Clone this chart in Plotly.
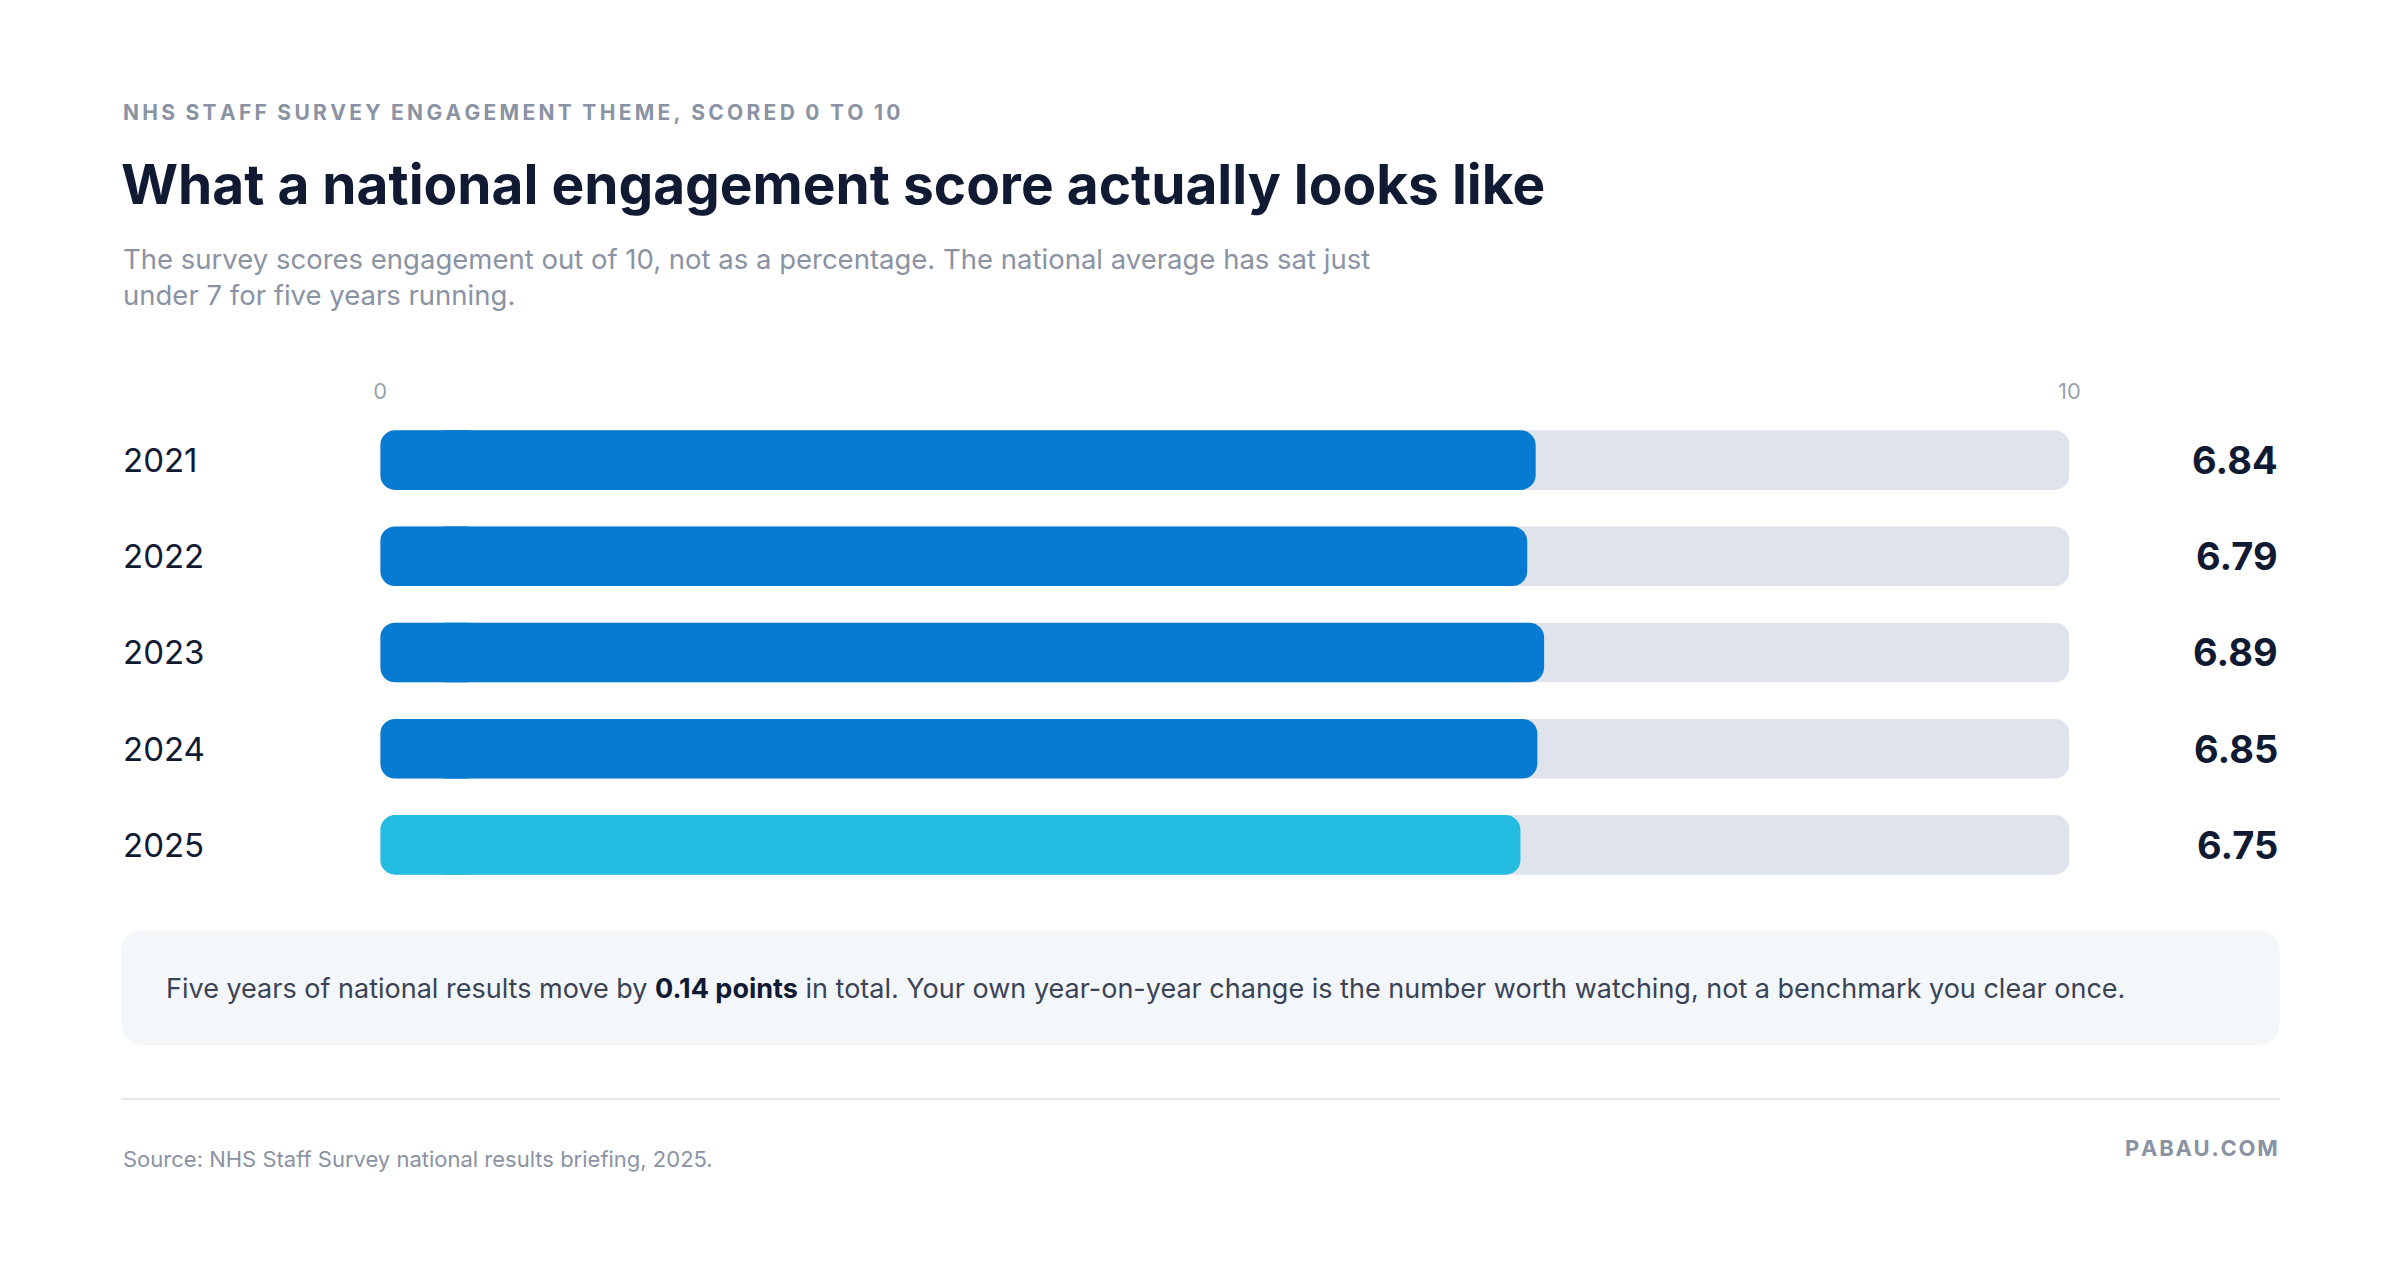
import plotly.graph_objects as go

W, H = 2400, 1284

years = ["2021", "2022", "2023", "2024", "2025"]
scores = [6.84, 6.79, 6.89, 6.85, 6.75]
bar_colors = ["#077BD2", "#077BD2", "#077BD2", "#077BD2", "#24BDE1"]
scale_max = 10
tick_vals = [0, 10]

DARK = "#111A33"
GREY = "#8A93A3"
FONT = "Inter"
LEFT, RIGHT = 107, 2282


def px(x):
    return x / W


def py(y):
    return 1 - y / H


def spaced(s, gap="\u2009"):
    # fake letter-spacing with thin spaces between characters
    return gap.join(s).replace(gap + " " + gap, "\u2002")


def rounded_rect(x0, y0, x1, y1, r):
    # paper-coordinate path, inputs in pixels
    rx, ry = r / W, r / H
    a, b, c, d = px(x0), py(y1), px(x1), py(y0)
    return (f"M{a + rx},{b} L{c - rx},{b} Q{c},{b} {c},{b + ry} L{c},{d - ry} Q{c},{d} {c - rx},{d} "
            f"L{a + rx},{d} Q{a},{d} {a},{d - ry} L{a},{b + ry} Q{a},{b} {a + rx},{b} Z")


rows = list(range(len(years)))
track = [scale_max] * len(years)


def rounded_bar(values, colors, hover=True):
    # main body plus a short reversed cap at the start so both ends come out rounded
    n = len(values)
    body = go.Bar(
        y=rows, x=[v - 0.3 for v in values], base=[0.3] * n, orientation="h",
        marker=dict(color=colors, line=dict(width=0)), width=0.62, showlegend=False,
        customdata=list(zip(years, values)),
        hovertemplate="%{customdata[0]}: %{customdata[1]:.2f}<extra></extra>" if hover else None,
        hoverinfo=None if hover else "skip",
    )
    cap = go.Bar(
        y=rows, x=[-0.6] * n, base=[0.6] * n, orientation="h",
        marker=dict(color=colors, line=dict(width=0)), width=0.62, showlegend=False,
        hoverinfo="skip",
    )
    return [body, cap]


fig = go.Figure()
for t in rounded_bar(track, "#DFE3EC", hover=False):
    fig.add_trace(t)
for t in rounded_bar(scores, bar_colors):
    fig.add_trace(t)

annotations = []
for i, (yr, v) in enumerate(zip(years, scores)):
    annotations.append(dict(
        x=px(LEFT), xref="paper", y=i, yref="y", text=yr, showarrow=False,
        xanchor="left", font=dict(size=33, color=DARK, family=FONT),
    ))
    annotations.append(dict(
        x=px(RIGHT), xref="paper", y=i, yref="y", text=f"<b>{v:.2f}</b>", showarrow=False,
        xanchor="right", font=dict(size=38, color=DARK, family=FONT),
    ))

annotations += [
    dict(x=px(LEFT), y=py(104), xref="paper", yref="paper", xanchor="left", yanchor="middle",
         text="<b>" + spaced("NHS STAFF SURVEY ENGAGEMENT THEME, SCORED 0 TO 10") + "</b>",
         showarrow=False, font=dict(size=21, color=GREY, family=FONT)),
    dict(x=px(LEFT - 2), y=py(176), xref="paper", yref="paper", xanchor="left", yanchor="middle",
         text="<b>What a national engagement score actually looks like</b>", showarrow=False,
         font=dict(size=55, color=DARK, family=FONT)),
    dict(x=px(LEFT), y=py(269), xref="paper", yref="paper", xanchor="left", yanchor="middle", align="left",
         text="The survey scores engagement out of 10, not as a percentage. The national average has sat just<br>under 7 for five years running.",
         showarrow=False, font=dict(size=27.5, color=GREY, family=FONT)),
    dict(x=px(LEFT + 43), y=py(981), xref="paper", yref="paper", xanchor="left", yanchor="middle",
         text="Five years of national results move by <b><span style='color:#111A33'>0.14 points</span></b> in total. Your own year-on-year change is the number worth watching, not a benchmark you clear once.",
         showarrow=False, font=dict(size=27, color="#3A4356", family=FONT)),
    dict(x=px(LEFT), y=py(1151), xref="paper", yref="paper", xanchor="left", yanchor="middle",
         text="Source: NHS Staff Survey national results briefing, 2025.", showarrow=False,
         font=dict(size=22, color=GREY, family=FONT)),
    dict(x=px(RIGHT), y=py(1140), xref="paper", yref="paper", xanchor="right", yanchor="middle",
         text="<b>P\u200aA\u200aB\u200aA\u200aU\u200a.\u200aC\u200aO\u200aM</b>", showarrow=False,
         font=dict(size=22, color=GREY, family=FONT)),
]

shapes = [
    dict(type="path", xref="paper", yref="paper", path=rounded_rect(LEFT, 922, RIGHT, 1037, 24),
         fillcolor="#F4F7FA", line=dict(width=0), layer="below"),
    dict(type="line", xref="paper", yref="paper", x0=px(LEFT), x1=px(RIGHT), y0=py(1091), y1=py(1091),
         line=dict(color="#E3E6EB", width=2)),
]

fig.update_layout(
    width=W, height=H,
    margin=dict(l=0, r=0, t=0, b=0),
    paper_bgcolor="white", plot_bgcolor="white",
    barmode="overlay", barcornerradius=15,
    annotations=annotations, shapes=shapes,
    xaxis=dict(domain=[px(368), px(2070)], range=[0, scale_max], side="top",
               tickvals=tick_vals, ticktext=[str(t) for t in tick_vals],
               tickfont=dict(size=22, color="#9AA2B0", family=FONT),
               showgrid=False, zeroline=False, showline=False, ticks="", ticklabelstandoff=8),
    yaxis=dict(domain=[py(885), py(404)], range=[len(years) - 0.5, -0.5], showticklabels=False,
               showgrid=False, zeroline=False, showline=False),
    font=dict(family=FONT),
)

fig.write_html("out.html")
